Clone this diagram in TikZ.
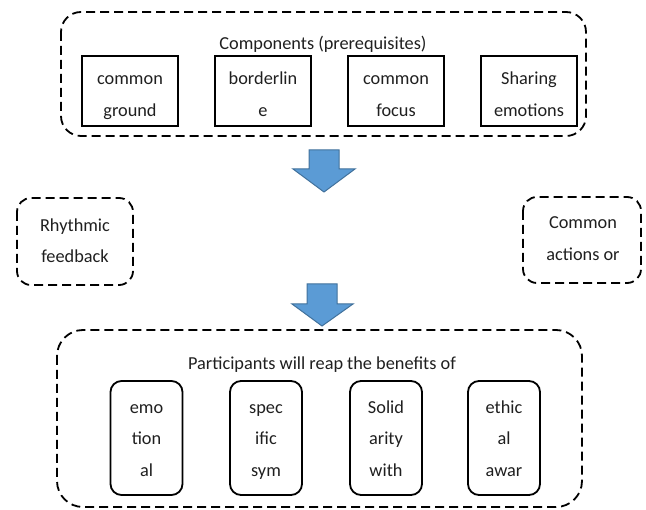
\documentclass[tikz,border=0pt]{standalone}
\usepackage{fontspec}
\setmainfont{Carlito}
\begin{document}
\begin{tikzpicture}[x=1pt,y=-1pt,
  dashbox/.style={draw=black, line width=1.8pt, dash pattern=on 9pt off 5pt},
  solidbox/.style={draw=black, line width=1.8pt, inner sep=0pt},
  roundbox/.style={draw=black, line width=1.8pt, rounded corners=11pt, inner sep=0pt},
  lbl/.style={anchor=base, inner sep=0pt, font=\fontsize{18.3}{22}\selectfont, text=black!88},
  blockarrow/.style={fill=arrowblue, draw=arrowedge, line width=1pt, line join=miter}
]
\definecolor{arrowblue}{HTML}{5B9BD5}
\definecolor{arrowedge}{HTML}{41719C}
\useasboundingbox (0,0) rectangle (646,510);

% top container
\draw[dashbox, rounded corners=20pt] (61,12) rectangle (586,136);
\node[lbl] (ttitle) at (323,50) {Components (prerequisites)};
\node[solidbox, minimum width=96pt, minimum height=70pt] (c1) at (130,91) {};
\node[solidbox, minimum width=96pt, minimum height=70pt] (c2) at (263,91) {};
\node[solidbox, minimum width=96pt, minimum height=70pt] (c3) at (396,91) {};
\node[solidbox, minimum width=96pt, minimum height=70pt] (c4) at (529,91) {};
\node[lbl] (c1a) at (130,85) {common};
\node[lbl] (c1b) at (130,117) {ground};
\node[lbl] (c2a) at (263,85) {borderlin};
\node[lbl] (c2b) at (263,117) {e};
\node[lbl] (c3a) at (396,85) {common};
\node[lbl] (c3b) at (396,117) {focus};
\node[lbl] (c4a) at (529,85) {Sharing};
\node[lbl] (c4b) at (529,117) {emotions};

% arrows
\draw[blockarrow] (309,150) -- (339,150) -- (339,169) -- (355,169) -- (324,192) -- (293,169) -- (309,169) -- cycle;
\draw[blockarrow] (307,284) -- (337,284) -- (337,304) -- (353,304) -- (322,326) -- (292,304) -- (307,304) -- cycle;

% side boxes
\draw[dashbox, rounded corners=14pt] (17,198) rectangle (133,285);
\node[lbl] (r1) at (75,232) {Rhythmic};
\node[lbl] (r2) at (75,263) {feedback};
\draw[dashbox, rounded corners=14pt] (523,197) rectangle (641,283);
\node[lbl] (a1) at (583,229) {Common};
\node[lbl] (a2) at (583,261) {actions or};

% bottom container
\draw[dashbox, rounded corners=26pt] (57,330) rectangle (582,507);
\node[lbl] (btitle) at (322,370) {Participants will reap the benefits of};
\node[roundbox, minimum width=72pt, minimum height=114pt] (b1) at (146.5,438) {};
\node[roundbox, minimum width=72pt, minimum height=114pt] (b2) at (266,438) {};
\node[roundbox, minimum width=72pt, minimum height=114pt] (b3) at (386,438) {};
\node[roundbox, minimum width=72pt, minimum height=114pt] (b4) at (504,438) {};
\node[lbl] (b1a) at (146.5,414) {emo};
\node[lbl] (b1b) at (146.5,445) {tion};
\node[lbl] (b1c) at (146.5,477) {al};
\node[lbl] (b2a) at (266,414) {spec};
\node[lbl] (b2b) at (266,445) {ific};
\node[lbl] (b2c) at (266,477) {sym};
\node[lbl] (b3a) at (386,414) {Solid};
\node[lbl] (b3b) at (386,445) {arity};
\node[lbl] (b3c) at (386,477) {with};
\node[lbl] (b4a) at (504,414) {ethic};
\node[lbl] (b4b) at (504,445) {al};
\node[lbl] (b4c) at (504,477) {awar};
\end{tikzpicture}
\end{document}
